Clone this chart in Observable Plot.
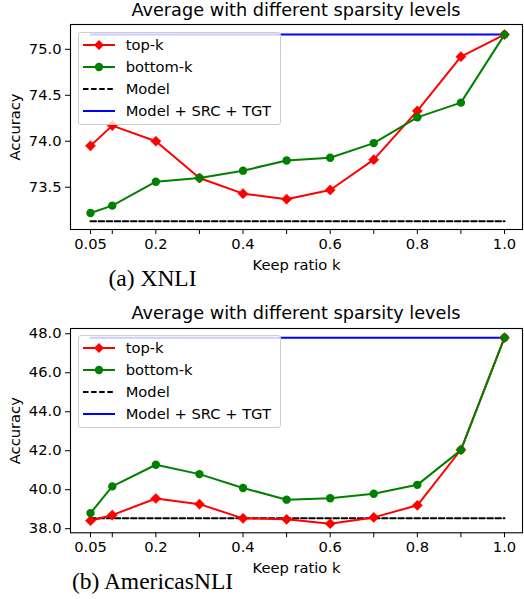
<!DOCTYPE html>
<html>
<head>
<meta charset="utf-8">
<script src="https://cdn.jsdelivr.net/npm/d3@7"></script>
<script src="https://cdn.jsdelivr.net/npm/@observablehq/plot@0.6"></script>
<style>
  html, body { margin: 0; padding: 0; background: white; }
  #wrap { position: relative; width: 524px; height: 599px; background: white; overflow: hidden; }
  .panel { position: absolute; left: 0; }
  .title { position: absolute; left: 70px; width: 452px; text-align: center; font-family: "DejaVu Sans"; font-size: 17.7px; line-height: 1; white-space: nowrap; color: black; }
  .caption { position: absolute; left: 0; width: 305px; text-align: center; font-family: "Liberation Serif", "Times New Roman", serif; font-size: 23.5px; line-height: 1; white-space: nowrap; color: black; }
  .legend { position: absolute; left: 78px; width: 201px; height: 91px; border: 1px solid #cccccc; border-radius: 3px; background: rgba(255,255,255,0.8); font-family: "DejaVu Sans"; font-size: 14.7px; color: black; z-index: 5; }
  .legend .row { position: absolute; left: 0; height: 22px; display: flex; align-items: center; }
  .legend svg { display: block; margin-left: 3.7px; margin-right: 11px; }
</style>
</head>
<body>
<div id="wrap"></div>
<script>
// ---- data ----
const kValues = [0.05, 0.1, 0.2, 0.3, 0.4, 0.5, 0.6, 0.7, 0.8, 0.9, 1.0];
const xTickLabels = ["0.05", "", "0.2", "", "0.4", "", "0.6", "", "0.8", "", "1.0"];
const seriesNames = ["top-k", "bottom-k", "Model", "Model + SRC + TGT"];
const chartTitle = "Average with different sparsity levels";
const xLabel = "Keep ratio k";
const yLabel = "Accuracy";

const xnliTopK    = [73.95, 74.17, 74.00, 73.60, 73.43, 73.37, 73.47, 73.80, 74.33, 74.92, 75.16];
const xnliBottomK = [73.22, 73.30, 73.56, 73.60, 73.68, 73.79, 73.82, 73.98, 74.26, 74.42, 75.16];
const xnliModel = 73.13;
const xnliFull = 75.16;
const xnliYTicks = [73.5, 74.0, 74.5, 75.0];
const xnliCaption = "(a) XNLI";

const anliTopK    = [38.41, 38.70, 39.55, 39.26, 38.53, 38.48, 38.26, 38.58, 39.20, 42.05, 47.80];
const anliBottomK = [38.80, 40.17, 41.28, 40.80, 40.09, 39.49, 39.56, 39.79, 40.25, 42.03, 47.80];
const anliModel = 38.53;
const anliFull = 47.80;
const anliYTicks = [38, 40, 42, 44, 46, 48];
const anliCaption = "(b) AmericasNLI";

// ---- drawing ----
const labelMap = new Map(kValues.map((k, i) => [k, xTickLabels[i]]));
const wrap = document.getElementById("wrap");

function panel({topK, bottomK, model, full, yTicks, yDomain, height, marginTop, marginBottom}) {
  const rows = kValues.map((k, i) => ({k, top: topK[i], bottom: bottomK[i], model, full}));
  return Plot.plot({
    width: 524, height, marginTop, marginBottom, marginLeft: 70, marginRight: 2,
    style: {fontFamily: "DejaVu Sans", fontSize: "14.7px", color: "black", background: "transparent", overflow: "visible"},
    x: {domain: [0.0041, 1.0413]},
    y: {domain: yDomain},
    marks: [
      Plot.line(rows, {x: "k", y: "model", stroke: "black", strokeWidth: 2, strokeDasharray: "5.5,2.6"}),
      Plot.line(rows, {x: "k", y: "full", stroke: "#0000ff", strokeWidth: 2}),
      Plot.line(rows, {x: "k", y: "top", stroke: "#ff0000", strokeWidth: 2}),
      Plot.dot(rows, {x: "k", y: "top", symbol: "diamond2", r: 4.6, fill: "#ff0000", stroke: "#ff0000", strokeWidth: 0.5}),
      Plot.line(rows, {x: "k", y: "bottom", stroke: "#008000", strokeWidth: 2}),
      Plot.dot(rows, {x: "k", y: "bottom", r: 4.2, fill: "#008000"}),
      Plot.axisY({ticks: yTicks, tickFormat: d3.format(".1f"), tickSize: 5, tickPadding: 4,
                  label: yLabel, labelAnchor: "center", labelArrow: "none", labelOffset: 61}),
      Plot.axisX({ticks: kValues, tickFormat: d => labelMap.get(d), tickSize: 5, tickPadding: 4,
                  label: xLabel, labelAnchor: "center", labelArrow: "none", labelOffset: 40}),
      Plot.frame({stroke: "black", strokeWidth: 1.1})
    ]
  });
}

function legend(top) {
  const div = document.createElement("div");
  div.className = "legend";
  div.style.top = top + "px";
  const samples = [
    {stroke: "#ff0000", dash: null, marker: "diamond"},
    {stroke: "#008000", dash: null, marker: "circle"},
    {stroke: "black", dash: "5.5,2.6", marker: null},
    {stroke: "#0000ff", dash: null, marker: null}
  ];
  seriesNames.forEach((name, i) => {
    const s = samples[i];
    const row = document.createElement("div");
    row.className = "row";
    row.style.top = (0.7 + 22 * i) + "px";
    let mk = "";
    if (s.marker === "diamond") mk = `<path d="M16,6 L21,11 L16,16 L11,11 Z" fill="${s.stroke}"/>`;
    if (s.marker === "circle") mk = `<circle cx="16" cy="11" r="4.2" fill="${s.stroke}"/>`;
    row.innerHTML = `<svg width="32" height="22"><line x1="0" x2="32" y1="11" y2="11" stroke="${s.stroke}" stroke-width="2" ${s.dash ? `stroke-dasharray="${s.dash}"` : ""}/>${mk}</svg><span>${name}</span>`;
    div.appendChild(row);
  });
  return div;
}

function addText(cls, text, top) {
  const d = document.createElement("div");
  d.className = cls;
  d.textContent = text;
  d.style.top = top + "px";
  wrap.appendChild(d);
}

// Panel (a)
const p1 = panel({topK: xnliTopK, bottomK: xnliBottomK, model: xnliModel, full: xnliFull,
  yTicks: xnliYTicks, yDomain: [73.04, 75.27], height: 300, marginTop: 24, marginBottom: 71});
p1.classList.add("panel"); p1.style.top = "0px";
wrap.appendChild(p1);
addText("title", chartTitle, 2);
wrap.appendChild(legend(32.3));
addText("caption", xnliCaption, 267.3);

// Panel (b)
const p2 = panel({topK: anliTopK, bottomK: anliBottomK, model: anliModel, full: anliFull,
  yTicks: anliYTicks, yDomain: [37.79, 48.27], height: 299, marginTop: 28, marginBottom: 66.7});
p2.classList.add("panel"); p2.style.top = "300px";
wrap.appendChild(p2);
addText("title", chartTitle, 305);
wrap.appendChild(legend(335));
addText("caption", anliCaption, 570.3);
</script>
</body>
</html>
